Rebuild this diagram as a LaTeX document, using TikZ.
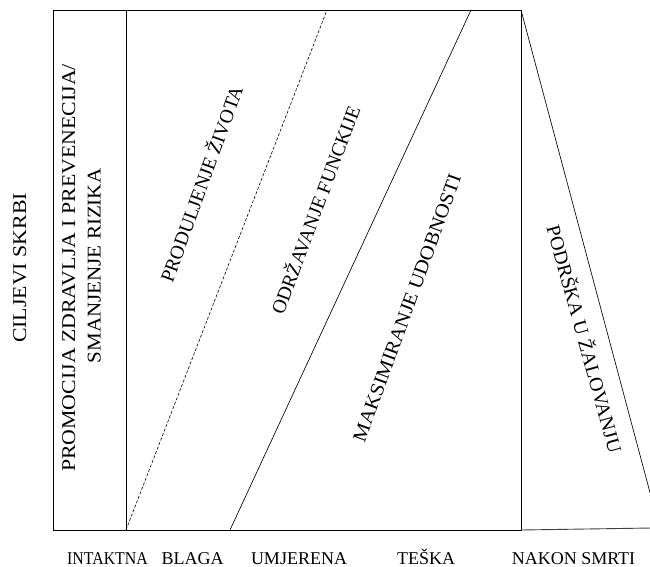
\documentclass[tikz,border=0pt]{standalone}
\usepackage{fontspec}
\setmainfont{Liberation Serif}
\begin{document}
\begin{tikzpicture}[x=1pt,y=-1pt,
  boxline/.style={line width=0.9pt},
  thinline/.style={line width=0.65pt},
  dashline/.style={line width=0.6pt, dash pattern=on 3pt off 1.8pt},
  lbl/.style={inner sep=0pt, text height=13pt, text depth=0pt, font=\fontsize{19.5}{23}\selectfont},
  axislbl/.style={inner sep=0pt, anchor=base, font=\fontsize{18}{22}\selectfont}]
\useasboundingbox (0,0) rectangle (650,567);
% key points
\coordinate (tl) at (53,10);
\coordinate (br) at (521,530);
\coordinate (tr) at (521,10);
\coordinate (bl) at (53,530);
\coordinate (dtop) at (126,10);
\coordinate (dbot) at (126,530);
\coordinate (dashtop) at (327,10);
\coordinate (soltop) at (471,10);
\coordinate (solbot) at (230,530);
\coordinate (triend) at (652,500);
\coordinate (baseend) at (652,528);
% frame
\draw[boxline] (tl) rectangle (br);
\draw[boxline] (dtop) -- (dbot);
\draw[dashline] (dbot) -- (dashtop);
\draw[thinline] (solbot) -- (soltop);
\draw[thinline] (tr) -- (triend);
\draw[line width=0.9pt, black!75] (br) -- (baseend);
% vertical labels
\node[lbl, rotate=90] (cilj) at (19.5,268) {\scalebox{1.12}[1]{CILJEVI SKRBI}};
\node[lbl, rotate=90] (prom1) at (68.5,268) {\scalebox{1.12}[1]{PROMOCIJA ZDRAVLJA I PREVENECIJA/}};
\node[lbl, rotate=90] (prom2) at (94,266) {\scalebox{1.08}[1]{SMANJENJE RIZIKA}};
% slanted labels
\node[lbl, rotate=70] (prod) at (202,184) {PRODULJENJE ŽIVOTA};
\node[lbl, rotate=69.5] (odrz) at (316,210) {ODRŽAVANJE FUNCKIJE};
\node[lbl, rotate=70] (maks) at (407,308) {\scalebox{1.07}[1]{MAKSIMIRANJE UDOBNOSTI}};
\node[lbl, rotate=-74.5] (podr) at (584,339) {\scalebox{1.03}[1]{PODRŠKA U ŽALOVANJU}};
% axis labels
\node[axislbl] (intakt) at (107.5,564) {\scalebox{0.88}[1]{INTAKTNA}};
\node[axislbl] (blaga) at (192.5,564) {BLAGA};
\node[axislbl] (umj) at (299,564) {UMJERENA};
\node[axislbl] (teska) at (426,564) {TEŠKA};
\node[axislbl] (nakon) at (573.5,564) {NAKON SMRTI};
\end{tikzpicture}
\end{document}
